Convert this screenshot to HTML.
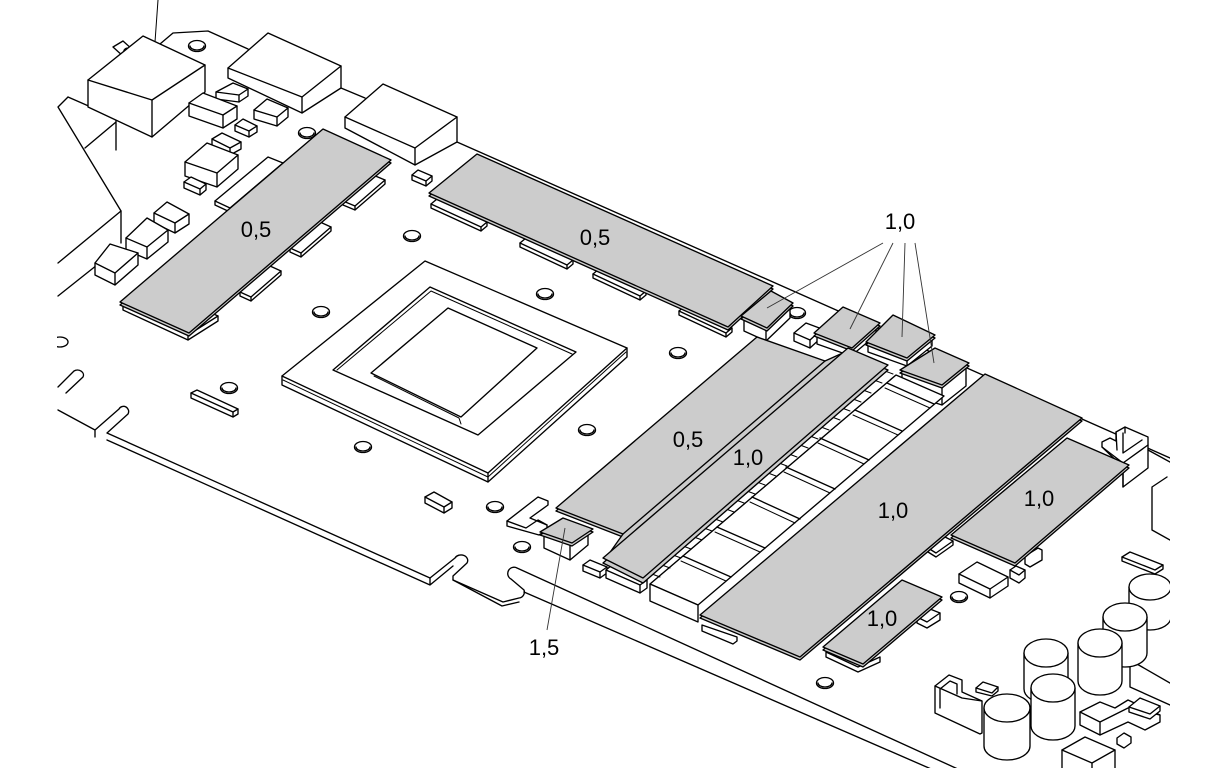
<!DOCTYPE html>
<html><head><meta charset="utf-8"><style>
html,body{margin:0;padding:0;background:#fff;}
svg{display:block}
.w{fill:#fff}
.g{fill:#cccccc}
text{font-family:"Liberation Sans",Arial,sans-serif;font-size:22px;fill:#000;stroke:none;text-anchor:middle}
</style></head><body>
<svg width="1209" height="768" viewBox="0 0 1209 768" xmlns="http://www.w3.org/2000/svg">
<defs><clipPath id="c"><rect x="57" y="0" width="1113" height="768"/></clipPath></defs>
<g clip-path="url(#c)" fill="none" stroke="#000" stroke-width="1.35" stroke-linejoin="round" stroke-linecap="round">
<!-- board lines -->
<path stroke-width="1" d="M158,0 L155,42"/>
<path d="M457,142 L1170,458"/>
<path d="M160,44 L173,33 L208,31 L248,49 M341,88 L365,98"/>
<path d="M68,97 L58,107 L121,211 L121,243 M68,97 L116,118 L116,150 M85,148 L116,122"/>
<path d="M121,211 L58,263 M97,265 L58,296"/>
<ellipse cx="60" cy="342" rx="8" ry="5"/>
<path d="M58,387 L74,371 A6,5 0 0 1 83,377 L66,393"/>
<path d="M58,410 L95,430 L95,437 M95,430 L119,409 A5,5 0 0 1 128,414 L107,433 L430,578 L455,558 A6,5 0 0 1 467,563 L453,576 L453,580 L503,602 L519,598 A6,6 0 0 0 524,590 L511,579 A5,5 0 0 1 517,568 L960,770"/>
<path d="M107,440 L430,585 L453,566 M430,578 L430,585 M453,580 L502,606 L519,602 M524,592 L945,775"/>
<path d="M1152,487 L1167,477 M1152,487 L1152,530 L1170,540 M1130,660 L1170,683 M1130,667 L1130,687 L1170,705"/>

<!-- holes -->
<g>
<ellipse cx="197" cy="46" rx="8.5" ry="5.5"/><path d="M190,46 A7,4 0 0 0 204,46"/>
<ellipse cx="307" cy="133" rx="8.5" ry="5.5"/><path d="M300,133 A7,4 0 0 0 314,133"/>
<ellipse cx="412" cy="236" rx="8.5" ry="5.5"/><path d="M405,236 A7,4 0 0 0 419,236"/>
<ellipse cx="321" cy="312" rx="8.5" ry="5.5"/><path d="M314,312 A7,4 0 0 0 328,312"/>
<ellipse cx="545" cy="294" rx="8.5" ry="5.5"/><path d="M538,294 A7,4 0 0 0 552,294"/>
<ellipse cx="678" cy="353" rx="8.5" ry="5.5"/><path d="M671,353 A7,4 0 0 0 685,353"/>
<ellipse cx="797" cy="313" rx="8.5" ry="5.5"/><path d="M790,313 A7,4 0 0 0 804,313"/>
<ellipse cx="587" cy="430" rx="8.5" ry="5.5"/><path d="M580,430 A7,4 0 0 0 594,430"/>
<ellipse cx="495" cy="507" rx="8.5" ry="5.5"/><path d="M488,507 A7,4 0 0 0 502,507"/>
<ellipse cx="522" cy="547" rx="8.5" ry="5.5"/><path d="M515,547 A7,4 0 0 0 529,547"/>
<ellipse cx="229" cy="388" rx="8.5" ry="5.5"/><path d="M222,388 A7,4 0 0 0 236,388"/>
<ellipse cx="363" cy="447" rx="8.5" ry="5.5"/><path d="M356,447 A7,4 0 0 0 370,447"/>
<ellipse cx="959" cy="597" rx="8.5" ry="5.5"/><path d="M952,597 A7,4 0 0 0 966,597"/>
<ellipse cx="825" cy="683" rx="8.5" ry="5.5"/><path d="M818,683 A7,4 0 0 0 832,683"/>
</g>

<!-- top-left boxes -->
<polygon class="w" points="113,47 123,41 133,50 124,57"/>
<ellipse class="w" cx="128" cy="53" rx="4" ry="5" transform="rotate(-30 128 53)"/>
<polygon class="w" points="88,80 143,36 205,65 205,92 152,137 88,107"/>
<polyline points="88,80 152,100 205,65"/><line x1="152" y1="100" x2="152" y2="137"/>
<polygon class="w" points="228,68 268,33 341,66 341,88 302,113 228,78"/>
<polyline points="228,68 302,97 341,66"/><line x1="302" y1="97" x2="302" y2="113"/>
<polygon class="w" points="345,117 383,84 457,117 457,142 415,165 345,128"/>
<polyline points="345,117 415,148 457,117"/><line x1="415" y1="148" x2="415" y2="165"/>
<polygon class="w" points="412,175 418,170 432,176 432,181 426,186 412,180"/><polyline points="412,175 426,181 432,176"/><line x1="426" y1="181" x2="426" y2="186"/>

<polygon class="w" points="216,92 233,83 248,89 248,96 239,102 216,99"/><polyline points="216,92 239,95 248,89"/><line x1="239" y1="95" x2="239" y2="102"/>
<polygon class="w" points="189,103 203,93 237,106 237,119 223,128 189,116"/><polyline points="189,103 223,115 237,106"/><line x1="223" y1="115" x2="223" y2="128"/>
<polygon class="w" points="254,110 267,99 288,108 288,117 277,126 254,119"/><polyline points="254,110 277,117 288,108"/><line x1="277" y1="117" x2="277" y2="126"/>
<polygon class="w" points="235,125 243,119 257,126 257,132 249,137 235,131"/><polyline points="235,125 249,131 257,126"/><line x1="249" y1="131" x2="249" y2="137"/>
<polygon class="w" points="212,139 222,133 241,142 241,149 230,155 212,146"/><polyline points="212,139 230,148 241,142"/><line x1="230" y1="148" x2="230" y2="155"/>
<polygon class="w" points="185,162 207,143 238,155 238,169 217,187 185,176"/><polyline points="185,162 217,173 238,155"/><line x1="217" y1="173" x2="217" y2="187"/>
<polygon class="w" points="184,182 191,177 206,184 206,190 200,195 184,188"/><polyline points="184,182 200,189 206,184"/><line x1="200" y1="189" x2="200" y2="195"/>
<polygon class="w" points="215,201 268,157 283,163 283,167 230,212 215,205"/><polyline points="215,201 230,208 283,163"/><line x1="230" y1="208" x2="230" y2="212"/>
<polygon class="w" points="154,213 167,202 189,214 189,224 175,233 154,223"/><polyline points="154,213 175,223 189,214"/><line x1="175" y1="223" x2="175" y2="233"/>
<polygon class="w" points="126,238 147,218 168,230 168,242 147,259 126,250"/><polyline points="126,238 147,247 168,230"/><line x1="147" y1="247" x2="147" y2="259"/>
<polygon class="w" points="95,263 110,244 138,253 138,265 115,285 95,275"/><polyline points="95,263 115,273 138,253"/><line x1="115" y1="273" x2="115" y2="285"/>

<!-- GPU frame -->
<polygon class="w" points="282,376 425,261 627,348 627,357 488,482 282,385"/>
<polyline points="282,376 488,473 627,348"/><line x1="488" y1="473" x2="488" y2="482"/>
<polyline stroke-width="1" points="283,380 488,477 626,352"/>
<polygon points="333,370 430,287 576,352 478,435"/>
<polyline stroke-width="1" points="337,370 431,291 572,354"/>
<polygon points="371,373 448,308 537,348 461,417"/>
<polyline stroke-width="1" points="374,376 459,418 461,424"/>
<polygon class="w" points="191,393 197,390 238,409 238,414 233,417 191,398"/><polyline points="191,393 233,412 238,409"/><line x1="233" y1="412" x2="233" y2="417"/>
<polygon class="w" points="425,497 434,492 452,502 452,508 444,513 425,503"/><polyline points="425,497 444,507 452,502"/><line x1="444" y1="507" x2="444" y2="513"/>

<!-- left pad tabs + pad -->
<polygon class="w" points="343,201 373,175 385,180 385,184 355,210 343,205"/><polyline points="343,201 355,206 385,180"/><line x1="355" y1="206" x2="355" y2="210"/>
<polygon class="w" points="290,248 320,222 331,227 331,231 301,257 290,252"/><polyline points="290,248 301,253 331,227"/><line x1="301" y1="253" x2="301" y2="257"/>
<polygon class="w" points="240,292 270,266 281,271 281,275 251,301 240,296"/><polyline points="240,292 251,297 281,271"/><line x1="251" y1="297" x2="251" y2="301"/>
<polygon class="w" points="123,305 153,286 218,316 218,321 188,340 123,310"/><polyline points="123,305 188,335 218,316"/><line x1="188" y1="335" x2="188" y2="340"/>
<polygon class="g" points="323,132 391,163 189,336 120,305"/>
<polygon class="g" points="323,129 391,160 189,333 120,302"/>

<!-- top pad tabs + pad -->
<polygon class="w" points="431,204 437,199 487,222 487,226 481,231 431,208"/><polyline points="431,204 481,227 487,222"/><line x1="481" y1="227" x2="481" y2="231"/>
<polygon class="w" points="520,243 526,238 573,260 573,264 567,269 520,247"/><polyline points="520,243 567,265 573,260"/><line x1="567" y1="265" x2="567" y2="269"/>
<polygon class="w" points="593,274 599,269 646,291 646,295 640,300 593,278"/><polyline points="593,274 640,296 646,291"/><line x1="640" y1="296" x2="640" y2="300"/>
<polygon class="w" points="679,311 685,306 732,328 732,332 726,337 679,315"/><polyline points="679,311 726,333 732,328"/><line x1="726" y1="333" x2="726" y2="337"/>
<polygon class="g" points="477,157 773,289 728,330 429,196"/>
<polygon class="g" points="477,154 773,286 728,327 429,193"/>

<!-- small stacks A-D -->
<polygon class="w" points="744,318 771,295 790,305 790,318 766,341 744,331"/><polyline points="744,318 766,328 790,305"/><line x1="766" y1="328" x2="766" y2="341"/>
<polygon class="g" points="771,294 793,306 767,331 741,319"/>
<polygon class="g" points="771,291 793,303 767,328 741,316"/>
<polygon class="w" points="794,333 806,323 822,329 822,337 810,348 794,341"/><polyline points="794,333 810,340 822,329"/><line x1="810" y1="340" x2="810" y2="348"/>
<polygon class="w" points="817,334 843,311 876,325 876,335 851,356 817,344"/><polyline points="817,334 851,346 876,325"/><line x1="851" y1="346" x2="851" y2="356"/>
<polygon class="g" points="843,310 880,326 852,351 814,336"/>
<polygon class="g" points="843,307 880,323 852,348 814,333"/>
<polygon class="w" points="868,342 893,319 932,336 932,346 907,366 868,352"/><polyline points="868,342 907,356 932,336"/><line x1="907" y1="356" x2="907" y2="366"/>
<polygon class="g" points="893,318 935,338 907,361 866,345"/>
<polygon class="g" points="893,315 935,335 907,358 866,342"/>
<polygon class="w" points="902,370 934,349 966,364 966,386 942,405 902,392"/><polyline points="902,370 942,383 966,364"/><line x1="942" y1="383" x2="942" y2="405"/>
<polygon class="g" points="935,351 969,366 942,388 900,373"/>
<polygon class="g" points="935,348 969,363 942,385 900,370"/>

<!-- middle-left small parts -->
<polygon class="w" points="507,521 538,497 548,501 548,505 530,518 547,525 547,530 539,535 507,526"/>
<polyline points="507,521 526,528 538,520 547,525 M526,528 526,533"/>
<polygon class="w" points="544,533 565,519 588,530 588,545 570,560 544,548"/><polyline points="544,533 570,545 588,530"/><line x1="570" y1="545" x2="570" y2="560"/>
<polygon class="g" points="563,521 593,532 572,546 540,535"/>
<polygon class="g" points="563,518 593,529 572,543 540,532"/>
<polygon class="w" points="583,565 590,560 607,567 607,573 600,578 583,571"/><polyline points="583,565 600,572 607,567"/><line x1="600" y1="572" x2="600" y2="578"/>
<polygon class="w" points="606,570 612,565 647,580 647,588 640,593 606,578"/><polyline points="606,570 640,585 647,580"/><line x1="640" y1="585" x2="640" y2="593"/>

<!-- chip row -->
<polygon class="w" points="896,375 944,396 698,605 650,584"/>
<polygon class="w" points="650,584 698,605 698,622 650,601"/>
<path d="M887,383 L934,404 M855,410 L902,431 M820,438 L869,460 M786,467 L835,489 M752,497 L800,519 M717,527 L765,548 M683,556 L731,577"/>
<path stroke-width="1" d="M885,388 L930,408 M853,415 L898,435 M818,443 L864,464 M784,472 L830,493 M750,502 L795,523 M715,532 L760,552 M681,561 L726,581"/>
<path stroke-width="1" d="M888,370 L643,583 M896,375 L650,584 M893,374 l-8,-3 M882,383 l-8,-3 M871,393 l-8,-3 M861,402 l-8,-3 M850,411 l-8,-3 M840,420 l-8,-3 M829,430 l-8,-3 M818,439 l-8,-3 M808,448 l-8,-3 M797,457 l-8,-3 M787,466 l-8,-3 M776,476 l-8,-3 M765,485 l-8,-3 M755,494 l-8,-3 M744,503 l-8,-3 M734,512 l-8,-3 M723,522 l-8,-3 M712,531 l-8,-3 M702,540 l-8,-3 M691,549 l-8,-3 M681,558 l-8,-3 M670,568 l-8,-3 M660,577 l-8,-3"/>
<polygon class="w" points="702,625 737,637 737,641 733,644 702,631"/>

<!-- middle 0,5 pad and strip -->
<polygon class="g" points="757,340 825,364 845,355 606,561 623,537 556,511"/>
<polygon class="g" points="757,337 825,361 845,352 606,558 623,534 556,508"/>
<polyline points="825,361 623,534"/>
<polygon class="g" points="848,353 888,370 643,583 603,563"/>
<polygon class="g" points="848,348 888,365 643,578 603,558"/>

<!-- right region small parts -->
<polygon class="w" points="1102,447 1102,442 1110,438 1116,441 1116,432 1125,427 1148,437 1148,468 1123,487 1123,467"/>
<path d="M1102,447 L1123,463 L1123,487 M1123,463 L1148,445 M1116,432 L1117,450 M1123,433 L1123,453 L1142,440 M1125,427 L1125,433 M1148,450 L1170,462"/>
<polygon class="w" points="1122,557 1130,552 1163,565 1163,569 1155,574 1122,561"/><polyline points="1122,557 1155,570 1163,565"/>
<polygon class="w" points="959,574 977,562 1008,577 1008,586 990,598 959,583"/><polyline points="959,574 990,589 1008,577"/><line x1="990" y1="589" x2="990" y2="598"/>
<polygon class="w" points="1010,570 1016,566 1025,570 1025,578 1019,583 1010,578"/><polyline points="1010,570 1019,575 1025,570"/>
<polygon class="w" points="1025,556 1038,548 1042,550 1042,560 1030,567 1025,564"/>
<polygon class="w" points="928,548 945,537 953,541 953,545 936,557 928,552"/><polyline points="928,548 936,553 953,541"/>
<polygon class="w" points="826,652 858,667 880,657 880,662 858,672 826,657"/>
<polygon class="w" points="917,617 930,609 940,613 940,620 927,628 917,623"/><polyline points="917,617 927,622 940,613"/>

<!-- bottom pad, big pad, right pad -->
<polygon class="g" points="902,583 942,600 863,667 823,650"/>
<polygon class="g" points="902,580 942,597 863,664 823,647"/>
<polygon class="g" points="985,377 1082,421 800,660 700,618"/>
<polygon class="g" points="985,374 1082,418 800,657 700,615"/>
<polygon class="g" points="1067,441 1129,468 1015,566 951,538"/>
<polygon class="g" points="1067,438 1129,465 1015,563 951,535"/>

<!-- bottom-right components -->
<polygon class="w" points="935,686 949,675 962,680 962,692 982,701 982,733 980,734 935,713"/>
<path d="M940,689 L940,708 M940,689 L950,681 L957,684 L957,694 M935,686 L962,698 L982,701"/>
<polygon class="w" points="976,688 983,682 998,687 998,691 992,696 976,692"/><polyline points="976,688 992,693 998,687"/>
<path class="w" d="M1129,587 L1129,617 A21,13 0 0 0 1171,617 L1171,587 Z"/><ellipse class="w" cx="1150" cy="587" rx="21" ry="13"/>
<path class="w" d="M1103,617 L1103,653 A22,14 0 0 0 1147,653 L1147,617 Z"/><ellipse class="w" cx="1125" cy="617" rx="22" ry="14"/>
<path class="w" d="M1078,643 L1078,681 A22,14 0 0 0 1122,681 L1122,643 Z"/><ellipse class="w" cx="1100" cy="643" rx="22" ry="14"/>
<path class="w" d="M1024,653 L1024,689 A22,14 0 0 0 1068,689 L1068,653 Z"/><ellipse class="w" cx="1046" cy="653" rx="22" ry="14"/>
<path class="w" d="M1031,688 L1031,726 A22,14 0 0 0 1075,726 L1075,688 Z"/><ellipse class="w" cx="1053" cy="688" rx="22" ry="14"/>
<path class="w" d="M984,708 L984,746 A23,14 0 0 0 1030,746 L1030,708 Z"/><ellipse class="w" cx="1007" cy="708" rx="23" ry="14"/>
<polygon class="w" points="1080,712 1100,702 1115,708 1128,700 1160,715 1160,722 1145,730 1128,722 1100,735 1080,725"/>
<path d="M1080,712 L1100,722 L1128,708 L1160,715 M1100,722 L1100,735"/>
<polygon class="w" points="1129,707 1140,698 1160,706 1160,711 1150,719 1129,712"/><polyline points="1129,707 1150,714 1160,706"/>
<polygon class="w" points="1062,750 1085,737 1115,750 1115,770 1062,770"/><path d="M1062,750 L1092,763 L1115,750 M1092,763 L1092,770"/>
<polygon class="w" points="1117,738 1124,733 1131,737 1131,743 1124,748 1117,744"/>
</g>

<!-- leaders -->
<g fill="none" stroke="#333" stroke-width="0.9">
<path d="M883,243 L767,308 M893,243 L850,329 M905,243 L902,337 M915,243 L934,363 M547,630 L565,528"/>
</g>

<!-- labels -->
<text x="256" y="237">0,5</text>
<text x="595" y="245">0,5</text>
<text x="900" y="229">1,0</text>
<text x="688" y="447">0,5</text>
<text x="748" y="465">1,0</text>
<text x="893" y="518">1,0</text>
<text x="882" y="626">1,0</text>
<text x="1039" y="506">1,0</text>
<text x="544" y="655">1,5</text>
</svg>
</body></html>
